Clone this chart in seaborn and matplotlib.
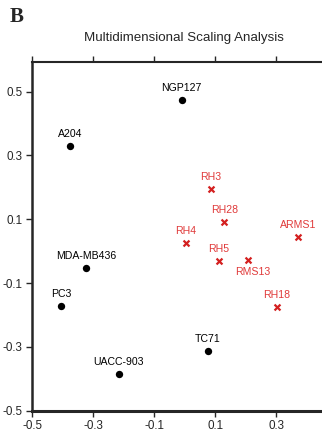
import matplotlib
matplotlib.use("Agg")
import matplotlib.pyplot as plt
import seaborn as sns
import pandas as pd

labels = ["NGP127", "A204", "MDA-MB436", "PC3", "UACC-903", "TC71",
          "RH3", "RH28", "ARMS1", "RH4", "RH5", "RMS13", "RH18"]
xs = [-0.010, -0.376, -0.324, -0.406, -0.216, 0.075,
      0.085, 0.130, 0.372, 0.003, 0.113, 0.209, 0.303]
ys = [0.474, 0.329, -0.053, -0.172, -0.386, -0.314,
      0.195, 0.091, 0.045, 0.027, -0.030, -0.028, -0.174]
groups = ["other"] * 6 + ["RMS"] * 7
xticks = [-0.5, -0.3, -0.1, 0.1, 0.3]
yticks = [-0.5, -0.3, -0.1, 0.1, 0.3, 0.5]

df = pd.DataFrame({"x": xs, "y": ys, "label": labels, "group": groups})

sns.set_style("ticks")
plt.rcParams["font.family"] = ["Liberation Sans", "DejaVu Sans"]

fig = plt.figure(figsize=(3.22, 4.36), dpi=100)
ax = fig.add_axes([0.1, 0.058, 0.95, 0.80])

sns.scatterplot(data=df[df.group == "other"], x="x", y="y", color="black",
                marker="o", s=28, edgecolor="black", linewidth=0, ax=ax, legend=False)
sns.scatterplot(data=df[df.group == "RMS"], x="x", y="y", color="#d42020",
                marker="x", s=18, linewidth=1.6, ax=ax, legend=False)

for _, r in df.iterrows():
    col = "black" if r.group == "other" else "#e03a3a"
    if r.label == "RMS13":
        ax.annotate(r.label, (r.x, r.y), xytext=(3, -5), textcoords="offset points",
                    ha="center", va="top", fontsize=7.6, color=col)
    else:
        ax.annotate(r.label, (r.x, r.y), xytext=(0, 5), textcoords="offset points",
                    ha="center", va="bottom", fontsize=7.6, color=col)

ax.set_xlim(-0.5, 0.503)
ax.set_ylim(-0.5, 0.593)
ax.set_xticks(xticks)
ax.set_yticks(yticks)
ax.set_xticklabels([f"{v:.1f}" for v in xticks])
ax.set_yticklabels([f"{v:.1f}" for v in yticks])
ax.tick_params(axis="both", labelsize=8.4, direction="out", length=4, width=1, pad=3)
ax.tick_params(axis="x", top=True)
ax.set_xlabel("")
ax.set_ylabel("")
ax.spines["right"].set_visible(False)
ax.spines["left"].set_linewidth(1.8)
ax.spines["bottom"].set_linewidth(2.2)
ax.spines["top"].set_linewidth(1.5)

fig.text(0.572, 0.913, "Multidimensional Scaling Analysis", ha="center",
         va="center", fontsize=9.6)
fig.text(0.03, 0.96, "B", ha="left", va="center", fontsize=15, fontweight="bold",
         family=["Liberation Serif", "DejaVu Serif"])

fig.savefig("out.png", dpi=100)
